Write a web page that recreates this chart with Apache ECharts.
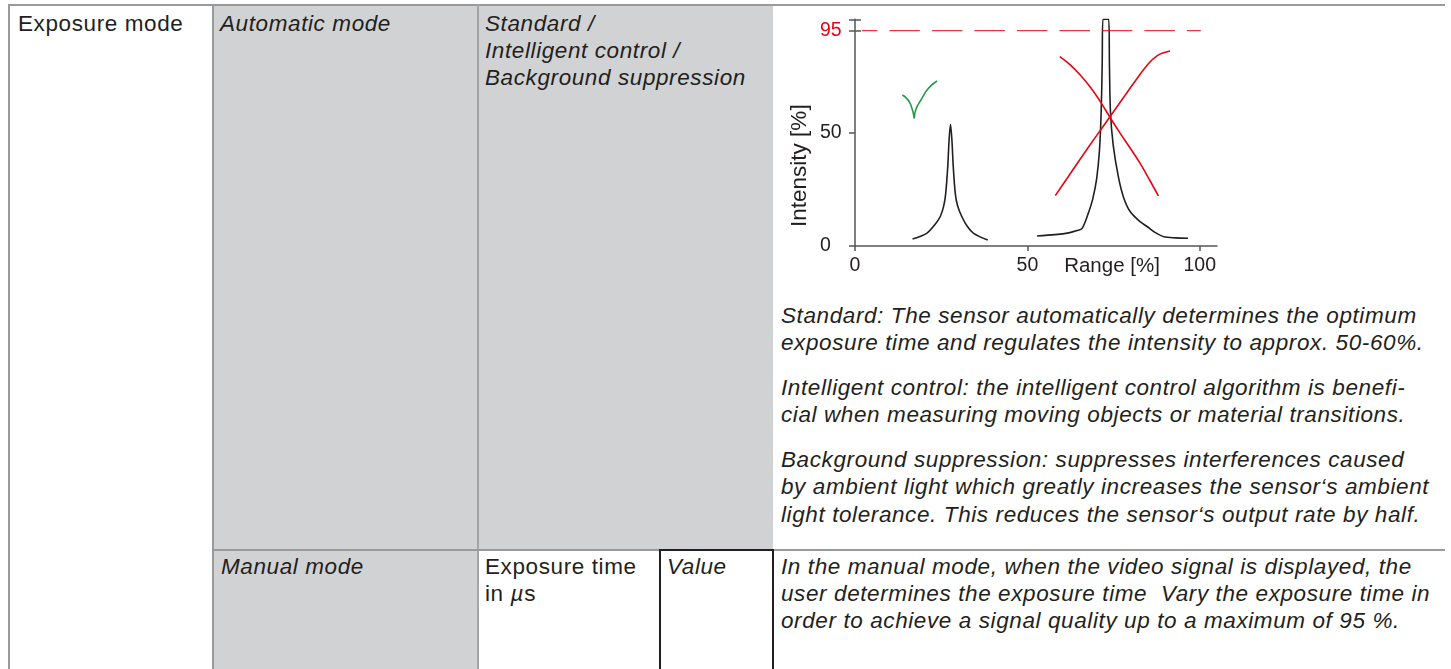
<!DOCTYPE html>
<html>
<head>
<meta charset="utf-8">
<title>Exposure mode</title>
<script src="https://cdn.jsdelivr.net/npm/echarts@6/dist/echarts.min.js"></script>
<style>
  body { margin:0; background:#fff; width:1451px; height:669px; overflow:hidden; position:relative;
         font-family:"Liberation Sans", Arial, sans-serif; color:#231f20; }
  .box { position:absolute; }
  .t { position:absolute; font-size:22.5px; line-height:27.3px; letter-spacing:0.6px; white-space:nowrap; }
  .i { font-style:italic; }
  .p { margin:0 0 17.7px 0; }
  #chart { position:absolute; left:0; top:0; width:1451px; height:669px; }
</style>
</head>
<body>
<!-- cell fills -->
<div class="box" style="left:213px;top:5px;width:560px;height:544px;background:#d1d2d4"></div>
<div class="box" style="left:213px;top:549px;width:264px;height:120px;background:#d1d2d4"></div>
<!-- rules -->
<div class="box" style="left:8px;top:4px;width:1437px;height:2px;background:#9a9a9a"></div>
<div class="box" style="left:8px;top:4px;width:2px;height:665px;background:#9a9a9a"></div>
<div class="box" style="left:212px;top:4px;width:2px;height:665px;background:#9a9a9a"></div>
<div class="box" style="left:477px;top:4px;width:1.5px;height:665px;background:#a4a4a4"></div>
<div class="box" style="left:213px;top:549px;width:1232px;height:2px;background:#9a9a9a"></div>
<div class="box" style="left:659px;top:549px;width:115px;height:2px;background:#231f20"></div>
<div class="box" style="left:659px;top:549px;width:2px;height:120px;background:#231f20"></div>
<div class="box" style="left:772px;top:549px;width:2px;height:120px;background:#231f20"></div>

<!-- texts -->
<div class="t" style="left:18px;top:9.5px">Exposure mode</div>
<div class="t i" style="left:220px;top:9.5px">Automatic mode</div>
<div class="t i" style="left:485px;top:9.5px">Standard /<br>Intelligent control /<br>Background suppression</div>
<div class="t i" style="left:781px;top:301.5px">
  <p class="p">Standard: The sensor automatically determines the optimum<br>exposure time and regulates the intensity to approx. 50-60%.</p>
  <p class="p">Intelligent control: the intelligent control algorithm is benefi-<br>cial when measuring moving objects or material transitions.</p>
  <p class="p">Background suppression: suppresses interferences caused<br>by ambient light which greatly increases the sensor‘s ambient<br>light tolerance. This reduces the sensor‘s output rate by half.</p>
</div>
<div class="t i" style="left:221px;top:552.5px">Manual mode</div>
<div class="t" style="left:485px;top:552.5px">Exposure time<br>in <i>µ</i>s</div>
<div class="t i" style="left:667px;top:552.5px">Value</div>
<div class="t i" style="left:781px;top:552.5px">In the manual mode, when the video signal is displayed, the<br>user determines the exposure time&nbsp; Vary the exposure time in<br>order to achieve a signal quality up to a maximum of 95 %.</div>

<div id="chart"></div>
<script type="text/javascript">
// values: [range %, intensity %]
var peakLow = [[16.7,3.1],[20.8,5.6],[23.2,9.5],[24.7,12.9],[25.7,17.5],[26.3,23],[26.9,35],[27.3,47],
               [27.7,53.7],[28.1,47],[28.5,35],[29.1,23],[29.8,17.5],[31,12.9],[32.6,8.6],[34.4,5.6],[38.5,2.6]];
var peakHigh = [[52.8,4.4],[58,5.0],[62,5.8],[64.4,6.8],[65.9,7.8],[67.8,15],[69,21],[70.1,29.7],
                [70.9,42],[71.4,59],[71.7,80],[71.9,100],[73.6,100],[73.8,80],[74.1,59],[74.9,44.4],
                [76.5,29.7],[78,21],[79.9,15],[82.8,10.6],[84.8,8.5],[87,6],[89.6,4.1],[93,3.6],[96.6,3.4]];
var redDown = [[59.4,83.5],[62.5,79.8],[65.4,75.3],[68.5,69.6],[71.2,63.6],[73.9,56.9],[76.8,50.0],
               [79.9,43.0],[82.8,36.2],[85.5,29.0],[88,22.1]];
var redUp = [[58.1,22.2],[61.5,29.8],[65.4,38.5],[69.6,47.7],[73.9,56.9],[78.3,66.4],[81.5,73.2],
             [84.5,79.3],[87.7,84.0],[91.4,86.0]];
var checkLeft = [[13.75,66.6],[15.0,65.1],[16.2,62.2],[17.2,56.3]];
var checkRight = [[17.2,56.3],[17.6,60],[19.4,65.1],[21.3,69.6],[23.8,72.8]];
var limitLine = [[2,95],[100.3,95]];
var xTicks = [0, 50, 100];
var yLabels = [0, 50, 95];
var yTicks = [0, 50, 95, 100];

var myChart = echarts.init(document.getElementById('chart'));
var axisColor = '#555';
var red = '#e30613';
var ink = '#231f20';

// dash pattern of the 95 % line: short first dash, then regular dashes
var dashes = [15.5, 12];
for (var k = 0; k < 9; k++) { dashes.push(30.5, 12); }

function curve(data, color, smooth) {
    return { type:'line', data:data, showSymbol:false, smooth:smooth,
             lineStyle:{ color:color, width:1.6 }, silent:true };
}

var option = {
    animation: false,
    grid: { left:855, right:234, top:19.3, bottom:423, containLabel:false, outerBoundsMode:'none' },
    xAxis: {
        type:'value', min:0, max:105,
        axisLine:{ lineStyle:{ color:axisColor, width:1.5 } },
        axisTick:{ customValues:xTicks, length:5, lineStyle:{ color:axisColor, width:1.5 } },
        axisLabel:{ customValues:xTicks, fontSize:19.5, color:ink, margin:10, fontFamily:'Liberation Sans' },
        splitLine:{ show:false },
        name:'Range [%]', nameLocation:'middle', nameGap:10, nameMoveOverlap:false,
        nameTextStyle:{ fontSize:20.5, color:ink, padding:[0,0,0,152], fontFamily:'Liberation Sans' }
    },
    yAxis: [{
        type:'value', min:0, max:100,
        axisLine:{ show:true, lineStyle:{ color:axisColor, width:1.5 } },
        axisTick:{ show:true, customValues:yTicks, length:6, lineStyle:{ color:axisColor, width:1.5 } },
        axisLabel:{ customValues:yLabels, fontSize:19.5, color:ink, align:'left', margin:35,
                    fontFamily:'Liberation Sans',
                    formatter:function(v){ return v === 95 ? '{r|95}' : String(v); },
                    rich:{ r:{ color:red, fontSize:19.5, fontFamily:'Liberation Sans' } } },
        splitLine:{ show:false },
        name:'Intensity [%]', nameLocation:'middle', nameGap:44, nameRotate:90, nameMoveOverlap:false,
        nameTextStyle:{ fontSize:22.5, color:ink, padding:[0,66,0,0], fontFamily:'Liberation Sans' }
    }, {
        type:'value', min:0, max:100, position:'left',
        axisLine:{ show:false },
        axisTick:{ show:true, inside:true, customValues:[95,100], length:6, lineStyle:{ color:axisColor, width:1.5 } },
        axisLabel:{ show:false },
        splitLine:{ show:false }
    }],
    series: [
        curve(peakLow, ink, 0.3),
        curve(peakHigh, ink, 0.3),
        curve(redDown, red, 0.4),
        curve(redUp, red, 0.4),
        curve(checkLeft, '#1f9a47', 0.5),
        curve(checkRight, '#1f9a47', 0.5),
        { type:'line', data:limitLine, showSymbol:false, silent:true,
          lineStyle:{ color:red, width:1.2, opacity:0.8, type:dashes } }
    ]
};
myChart.setOption(option);
</script>
</body>
</html>
